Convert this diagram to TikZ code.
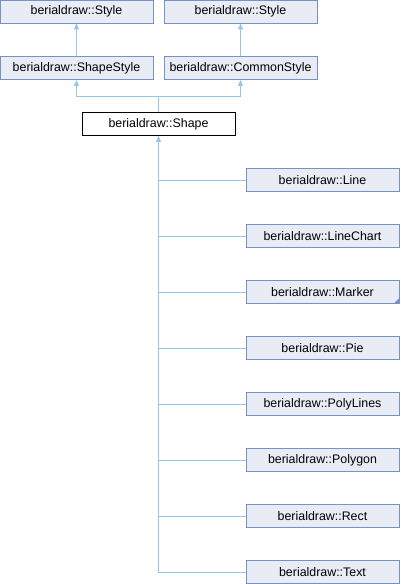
\documentclass[tikz,border=0pt]{standalone}
\usepackage{fontspec}
\setmainfont{Liberation Sans}
\usetikzlibrary{arrows.meta}
\definecolor{boxfill}{HTML}{E8ECF4}
\definecolor{boxdraw}{HTML}{7A90C6}
\definecolor{edgecol}{HTML}{94C6E8}
\tikzset{
  cls/.style={draw=boxdraw, fill=boxfill, line width=0.9pt, rectangle, minimum width=153pt, minimum height=23pt, inner sep=0pt, font=\fontsize{12.4}{14}\selectfont},
  curcls/.style={cls, draw=black, fill=white},
  inh/.style={draw=edgecol, line width=0.9pt, -{Triangle[width=5pt,length=6pt,fill=edgecol]}},
  plain/.style={draw=edgecol, line width=0.9pt}
}
\begin{document}
\begin{tikzpicture}[x=1pt,y=-1pt]
\useasboundingbox (0,0) rectangle (400,584);
\node[cls] (s1) at (76.5,11.5) {berialdraw::Style};
\node[cls] (s2) at (240.5,11.5) {berialdraw::Style};
\node[cls] (ss) at (76.5,68) {berialdraw::ShapeStyle};
\node[cls] (cs) at (240.5,68) {berialdraw::CommonStyle};
\node[curcls] (sh) at (158.5,124) {berialdraw::Shape};
\node[cls] (c1) at (322.5,180) {berialdraw::Line};
\node[cls] (c2) at (322.5,236) {berialdraw::LineChart};
\node[cls] (c3) at (322.5,292) {berialdraw::Marker};
\node[cls] (c4) at (322.5,348) {berialdraw::Pie};
\node[cls] (c5) at (322.5,404) {berialdraw::PolyLines};
\node[cls] (c6) at (322.5,460) {berialdraw::Polygon};
\node[cls] (c7) at (322.5,516) {berialdraw::Rect};
\node[cls] (c8) at (322.5,572) {berialdraw::Text};
\fill[boxdraw] ([shift={(-0.5,-0.5)}]c3.south east) -- ++(-5,0) -- ++(5,-5) -- cycle;
\draw[inh] (ss.north) -- (s1.south);
\draw[inh] (cs.north) -- (s2.south);
\coordinate (j) at (158.5,96);
\draw[plain] (sh.north) -- (j);
\draw[inh] (j) -| (ss.south);
\draw[inh] (j) -| (cs.south);
\foreach \c in {c1,c2,c3,c4,c5,c6,c7} {\draw[plain] (\c.west) -| (sh.south);}
\draw[inh] (c8.west) -| (sh.south);
\end{tikzpicture}
\end{document}
